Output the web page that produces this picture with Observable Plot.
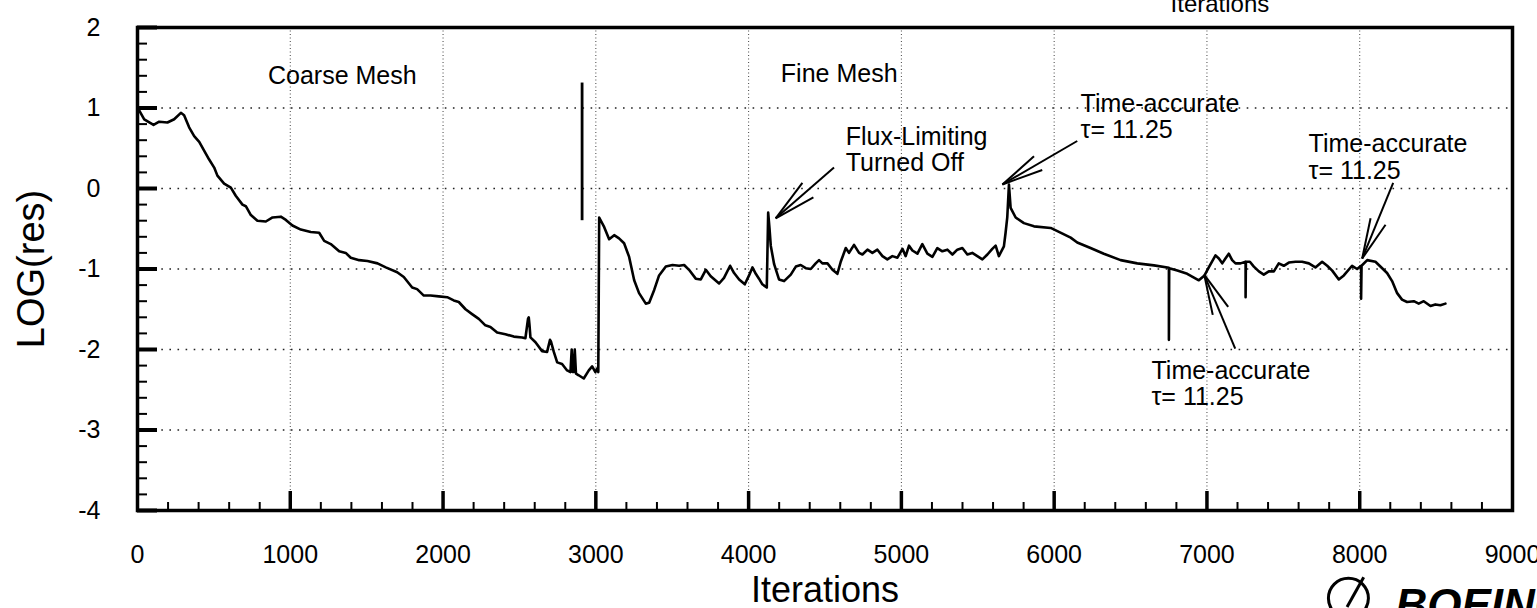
<!DOCTYPE html>
<html>
<head>
<meta charset="utf-8">
<script src="https://cdn.jsdelivr.net/npm/d3@7"></script>
<script src="https://cdn.jsdelivr.net/npm/@observablehq/plot@0.6"></script>
<style>
  html, body { margin: 0; padding: 0; background: #fff; overflow: hidden; }
</style>
</head>
<body>
<div id="chart"></div>
<script>
// Residual history: coarse-mesh iterations
const coarseIter = [0, 11, 44, 105, 142, 196, 240, 284, 305, 338, 371, 404, 436, 469, 502, 523, 567, 611, 643, 687, 709, 742, 785, 840, 884, 938, 971, 1014, 1069, 1134, 1189, 1222, 1265, 1320, 1363, 1396, 1451, 1505, 1571, 1625, 1700, 1743, 1798, 1830, 1874, 1918, 1972, 2027, 2070, 2103, 2147, 2190, 2234, 2277, 2310, 2354, 2408, 2463, 2518, 2539, 2556, 2561, 2566, 2572, 2605, 2648, 2681, 2700, 2706, 2725, 2747, 2779, 2812, 2834, 2842, 2848, 2855, 2862, 2870, 2888, 2921, 2954, 2976, 2997, 3008];
const coarseRes = [1.00, 0.97, 0.86, 0.79, 0.83, 0.82, 0.86, 0.94, 0.91, 0.76, 0.65, 0.58, 0.47, 0.36, 0.26, 0.16, 0.06, 0.01, -0.09, -0.20, -0.22, -0.33, -0.40, -0.41, -0.36, -0.35, -0.39, -0.46, -0.51, -0.54, -0.55, -0.65, -0.69, -0.78, -0.80, -0.86, -0.89, -0.90, -0.93, -0.98, -1.04, -1.10, -1.23, -1.25, -1.33, -1.33, -1.34, -1.35, -1.39, -1.41, -1.50, -1.56, -1.62, -1.70, -1.72, -1.79, -1.81, -1.84, -1.85, -1.86, -1.62, -1.60, -1.70, -1.85, -1.91, -2.02, -2.03, -1.88, -1.90, -2.03, -2.16, -2.18, -2.26, -2.28, -2.00, -2.28, -2.28, -2.00, -2.30, -2.32, -2.36, -2.26, -2.21, -2.28, -2.24];

// Residual history: fine-mesh iterations (starts where the coarse run ends)
const fineIter = [3008, 3016, 3022, 3055, 3087, 3120, 3152, 3185, 3218, 3251, 3283, 3327, 3349, 3382, 3414, 3458, 3502, 3545, 3578, 3610, 3654, 3687, 3720, 3752, 3807, 3839, 3879, 3905, 3938, 3975, 4003, 4025, 4047, 4068, 4090, 4119, 4128, 4137, 4145, 4167, 4199, 4232, 4276, 4309, 4341, 4374, 4407, 4439, 4461, 4483, 4516, 4549, 4581, 4603, 4636, 4657, 4690, 4723, 4745, 4778, 4810, 4843, 4876, 4908, 4941, 4974, 5007, 5028, 5050, 5072, 5105, 5137, 5170, 5203, 5235, 5268, 5301, 5334, 5366, 5399, 5432, 5464, 5497, 5530, 5563, 5595, 5617, 5638, 5671, 5682, 5693, 5704, 5715, 5748, 5802, 5868, 5977, 6021, 6108, 6151, 6238, 6325, 6435, 6544, 6653, 6751, 6751, 6753, 6806, 6871, 6947, 6984, 7012, 7056, 7078, 7100, 7121, 7143, 7165, 7187, 7220, 7253, 7253, 7255, 7281, 7307, 7340, 7372, 7405, 7438, 7470, 7503, 7536, 7580, 7623, 7667, 7710, 7754, 7787, 7820, 7863, 7896, 7950, 7983, 8009, 8009, 8012, 8049, 8103, 8147, 8179, 8212, 8245, 8277, 8310, 8354, 8386, 8419, 8463, 8495, 8528, 8561];
const fineRes = [-2.24, -2.28, -0.36, -0.48, -0.63, -0.58, -0.62, -0.68, -0.85, -1.14, -1.30, -1.43, -1.42, -1.26, -1.08, -0.97, -0.95, -0.96, -0.95, -1.01, -1.12, -1.13, -1.01, -1.09, -1.18, -1.11, -0.96, -1.05, -1.13, -1.19, -1.08, -0.98, -1.06, -1.12, -1.19, -1.23, -0.30, -0.50, -0.71, -0.94, -1.13, -1.15, -1.07, -0.97, -0.95, -0.99, -1.00, -0.93, -0.89, -0.93, -0.93, -1.01, -1.06, -0.91, -0.74, -0.80, -0.70, -0.80, -0.82, -0.76, -0.80, -0.76, -0.84, -0.88, -0.84, -0.86, -0.75, -0.84, -0.71, -0.77, -0.81, -0.69, -0.81, -0.85, -0.74, -0.78, -0.76, -0.82, -0.76, -0.74, -0.82, -0.80, -0.84, -0.88, -0.82, -0.75, -0.71, -0.84, -0.72, -0.55, -0.36, 0.05, -0.24, -0.36, -0.43, -0.47, -0.49, -0.53, -0.61, -0.67, -0.74, -0.81, -0.89, -0.93, -0.955, -0.985, -1.88, -0.99, -1.02, -1.06, -1.14, -1.08, -0.98, -0.83, -0.87, -0.93, -0.87, -0.81, -0.89, -0.93, -0.93, -0.91, -1.35, -0.91, -0.91, -0.97, -1.03, -1.07, -1.03, -1.03, -0.93, -0.96, -0.92, -0.91, -0.91, -0.93, -0.98, -0.91, -0.96, -1.02, -1.13, -1.08, -0.96, -1.00, -0.96, -1.37, -0.96, -0.89, -0.91, -0.99, -1.05, -1.15, -1.30, -1.38, -1.41, -1.40, -1.43, -1.40, -1.46, -1.44, -1.45, -1.43];

// Axis ticks
const xTickLabels = [0, 1000, 2000, 3000, 4000, 5000, 6000, 7000, 8000, 9000];
const yTickLabels = [-4, -3, -2, -1, 0, 1, 2];
const xMinorTicks = d3.range(200, 9000, 200).filter(v => v % 1000 !== 0);
const yMinorTicks = d3.range(-38, 20, 2).map(v => v / 10).filter(v => !Number.isInteger(v));
const xGrid = [1000, 2000, 3000, 4000, 5000, 6000, 7000, 8000];
const yGrid = [-3, -2, -1, 0, 1];

// Marker where the coarse mesh hands over to the fine mesh
const switchIter = [2910];
const switchLow = [-0.40];
const switchHigh = [1.31];

// Annotation labels (left edge, baseline of the last line)
const noteText = ["Coarse Mesh", "Fine Mesh", "Flux-Limiting\nTurned Off", "Time-accurate\nτ= 11.25", "Time-accurate\nτ= 11.25", "Time-accurate\nτ= 11.25"];
const noteIter = [854, 4211, 4636, 6173, 7665, 6637];
const noteRes = [1.30, 1.32, 0.215, 0.63, 0.124, -2.69];

// Annotation arrows: a tip and a fan of three strokes leaving it
const arrowTipIter = [4177, 5661, 8016, 6982];
const arrowTipRes = [-0.37, 0.05, -0.87, -1.07];
const arrowEndIter = [[4559, 4352, 4424], [6151, 5868, 5922], [8219, 8071, 8169], [7185, 7038, 7139]];
const arrowEndRes = [[0.26, 0.07, -0.11], [0.59, 0.40, 0.23], [0.07, -0.37, -0.45], [-1.99, -1.57, -1.47]];

const arrowSegments = arrowTipIter.flatMap((tx, i) =>
  arrowEndIter[i].map((ex, j) => ({x1: tx, y1: arrowTipRes[i], x2: ex, y2: arrowEndRes[i][j]}))
);
const notes = noteText.map((t, i) => ({text: t, x: noteIter[i], y: noteRes[i]}));

const font = "'Liberation Sans', Arial, Helvetica, sans-serif";

const chart = Plot.plot({
  width: 1537,
  height: 608,
  marginLeft: 137,
  marginRight: 25,
  marginTop: 27,
  marginBottom: 98,
  style: {fontFamily: font, background: "#fff", color: "#000", overflow: "hidden"},
  x: {domain: [0, 9000], label: null},
  y: {domain: [-4, 2], label: null},
  marks: [
    // dotted grid
    Plot.ruleX(xGrid, {stroke: "#444", strokeWidth: 1, strokeDasharray: "1,2.5"}),
    Plot.ruleY(yGrid, {stroke: "#222", strokeWidth: 1.6, strokeDasharray: "1.6,6.5"}),

    // inward ticks on the left and bottom axes
    Plot.axisY(yMinorTicks, {anchor: "left", tickSize: -10, strokeWidth: 2, text: null, label: null}),
    Plot.axisY(yTickLabels, {anchor: "left", tickSize: -20, strokeWidth: 4, text: null, label: null}),
    Plot.axisX(xMinorTicks, {anchor: "bottom", tickSize: -8, strokeWidth: 2, text: null, label: null}),
    Plot.axisX(xGrid, {anchor: "bottom", tickSize: -19, strokeWidth: 3.5, text: null, label: null}),

    // tick labels
    Plot.axisY(yTickLabels, {anchor: "left", tickSize: 0, tickPadding: 37, fontSize: 25, tickFormat: d => String(d), label: null}),
    Plot.axisX(xTickLabels, {anchor: "bottom", tickSize: 0, tickPadding: 35, fontSize: 25, tickFormat: d => String(d), label: null}),

    Plot.frame({stroke: "#000", strokeWidth: 3.5}),

    // residual curves
    Plot.line(coarseRes, {x: coarseIter, y: coarseRes, stroke: "#000", strokeWidth: 2.6, strokeLinejoin: "round"}),
    Plot.line(fineRes, {x: fineIter, y: fineRes, stroke: "#000", strokeWidth: 2.6, strokeLinejoin: "round"}),
    Plot.ruleX(switchIter, {x: d => d, y1: switchLow, y2: switchHigh, stroke: "#000", strokeWidth: 2.8}),

    // annotations
    Plot.link(arrowSegments, {x1: "x1", y1: "y1", x2: "x2", y2: "y2", stroke: "#000", strokeWidth: 2}),
    Plot.text(notes, {x: "x", y: "y", text: "text", textAnchor: "start", lineAnchor: "bottom", lineHeight: 1.05, fontSize: 25, fill: "#000"}),

    // axis titles
    Plot.text(["LOG(res)"], {frameAnchor: "left", dx: -106, rotate: -90, fontSize: 38, textAnchor: "middle", fill: "#000"}),
    Plot.text(["Iterations"], {frameAnchor: "bottom", dy: 91, fontSize: 36, lineAnchor: "bottom", fill: "#000"}),
    Plot.text(["Iterations"], {x: [6762], y: [2.19], textAnchor: "start", lineAnchor: "bottom", fontSize: 24, fill: "#000"}),

    // company mark in the lower right corner
    Plot.dot([0], {x: [7926], y: [-5.09], r: 20, stroke: "#000", strokeWidth: 3, fill: "none"}),
    Plot.link([0], {x1: [7917], y1: [-5.20], x2: [8026], y2: [-4.83], stroke: "#000", strokeWidth: 3}),
    Plot.text(["BOEING"], {x: [8234], y: [-5.36], textAnchor: "start", lineAnchor: "bottom", fontSize: 44, fontWeight: "bold", fontStyle: "italic", fill: "#000"})
  ]
});

document.getElementById("chart").appendChild(chart);
</script>
</body>
</html>
